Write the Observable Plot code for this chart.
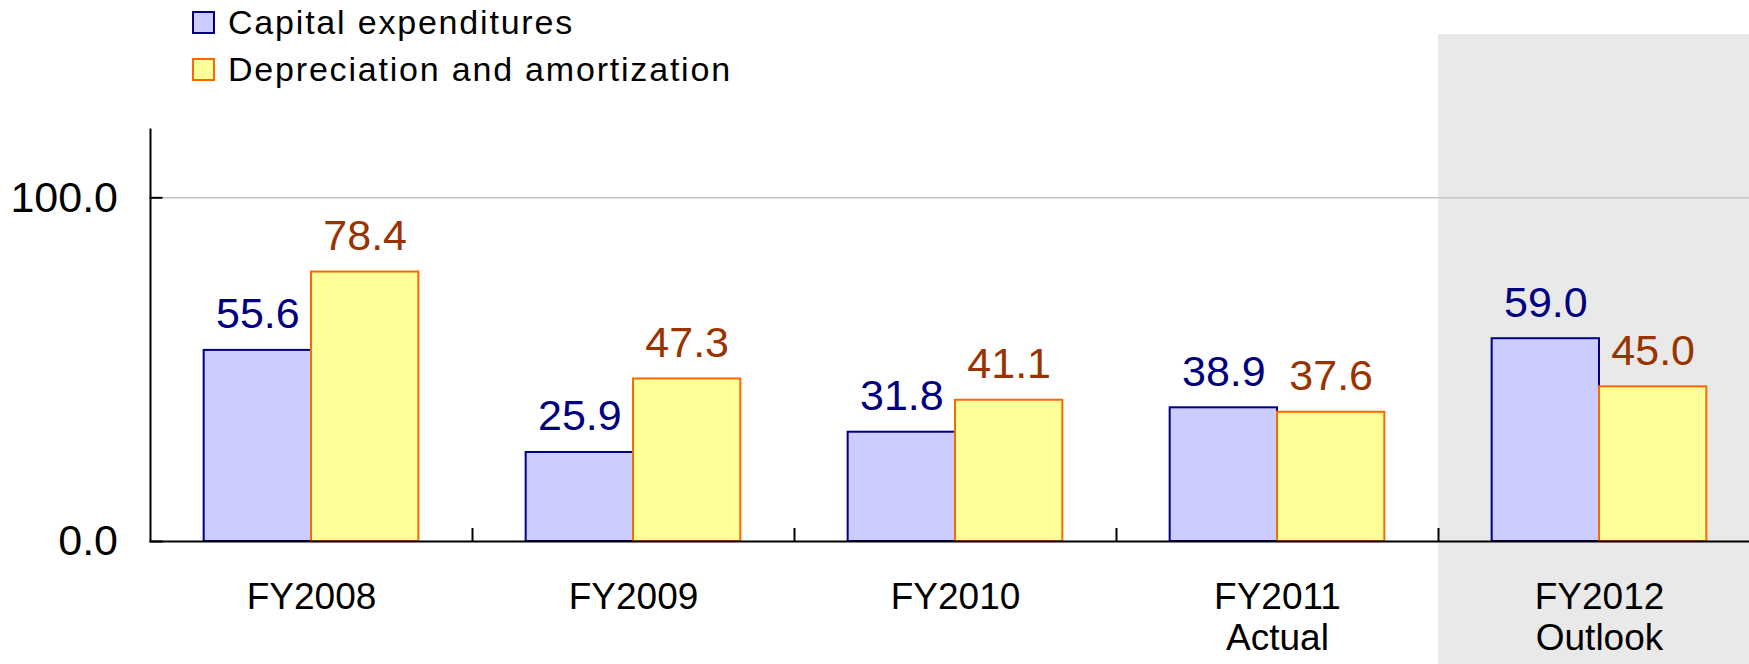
<!DOCTYPE html>
<html><head><meta charset="utf-8">
<script src="https://cdn.jsdelivr.net/npm/d3@7"></script>
<script src="https://cdn.jsdelivr.net/npm/@observablehq/plot@0.6"></script>
<style>
html,body{margin:0;padding:0;background:#fff;overflow:hidden;}
#wrap{position:relative;width:1749px;height:664px;overflow:hidden;font-family:"Liberation Sans",Arial,sans-serif;}
#legend{position:absolute;left:192px;top:11px;z-index:2}
.item{display:flex;align-items:center;height:23px;margin-bottom:23.7px;}
.sw{width:19px;height:19px;border:2px solid;box-sizing:content-box;margin-right:13px;flex:none}
.lab{font-size:34px;letter-spacing:1.8px;color:#000;line-height:23px;white-space:nowrap}
#chart svg{display:block;max-width:none}
g[aria-label="category labels"] text{letter-spacing:2px}
</style></head><body><div id="wrap"><div id="legend"></div><div id="chart"></div></div>
<script>
// ---- data ----
const years = ["FY2008", "FY2009", "FY2010", "FY2011", "FY2012"];
const yearLabels = ["FY2008", "FY2009", "FY2010", "FY2011\nActual", "FY2012\nOutlook"];
const capex = [55.6, 25.9, 31.8, 38.9, 59.0];
const depreciation = [78.4, 47.3, 41.1, 37.6, 45.0];
const seriesNames = ["Capital expenditures", "Depreciation and amortization"];
const yTicks = [0, 100];
const yAxisTop = 120;
const outlookYears = ["FY2012"];

// ---- styles ----
const fills = ["#ccccff", "#ffff99"];
const strokes = ["#000080", "#ff6600"];
const labelColors = ["#000080", "#993300"];

// ---- layout ----
const width = 1760, height = 664;
const marginLeft = 149.5, marginRight = 0.5, marginTop = 34, marginBottom = 0;
const pxPerUnit = 3.437;           // vertical pixels per unit
const zeroPx = 541;                // pixel row of value 0
const yDomain = [-(height - marginBottom - zeroPx) / pxPerUnit, (zeroPx - marginTop) / pxPerUnit];
const step = (width - marginLeft - marginRight) / years.length;
const tickLen = 13 / pxPerUnit;

const capRows = years.map((y, i) => ({year: y, value: capex[i]}));
const depRows = years.map((y, i) => ({year: y, value: depreciation[i]}));
const labelMap = new Map(years.map((y, i) => [y, yearLabels[i]]));

// legend
const legend = document.getElementById("legend");
seriesNames.forEach((name, i) => {
  const item = document.createElement("div");
  item.className = "item";
  const sw = document.createElement("div");
  sw.className = "sw";
  sw.style.background = fills[i];
  sw.style.borderColor = strokes[i];
  const lab = document.createElement("div");
  lab.className = "lab";
  lab.textContent = name;
  item.append(sw, lab);
  legend.append(item);
});

const chart = Plot.plot({
  width, height, marginLeft, marginRight, marginTop, marginBottom,
  style: {fontFamily: '"Liberation Sans", Arial, sans-serif', background: "transparent", overflow: "visible"},
  x: {type: "band", domain: years, padding: 0, axis: null},
  y: {domain: yDomain, axis: null},
  marks: [
    Plot.cell(outlookYears, {x: d => d, fill: "#e9e9e9"}),
    Plot.ruleY([100], {stroke: "#c4c4c4", strokeWidth: 1.5}),
    Plot.barY(capRows, {x: "year", y: "value", fill: fills[0], stroke: strokes[0], strokeWidth: 2,
      insetLeft: step / 6, insetRight: step / 2}),
    Plot.barY(depRows, {x: "year", y: "value", fill: fills[1], stroke: strokes[1], strokeWidth: 2,
      insetLeft: step / 2, insetRight: step / 6}),
    Plot.text(capRows, {x: "year", y: "value", text: d => d.value.toFixed(1), dx: -step / 6, dy: -22,
      lineAnchor: "bottom", fill: labelColors[0], fontSize: 43}),
    Plot.text(depRows, {x: "year", y: "value", text: d => d.value.toFixed(1), dx: step / 6, dy: -22,
      lineAnchor: "bottom", fill: labelColors[1], fontSize: 43}),
    Plot.ruleY([0], {stroke: "#000", strokeWidth: 2}),
    Plot.ruleX([years[0]], {x: d => d, dx: -step / 2, y1: 0, y2: yAxisTop, stroke: "#000", strokeWidth: 2}),
    Plot.ruleX(years.slice(0, -1), {x: d => d, dx: step / 2, y1: 0, y2: tickLen, stroke: "#000", strokeWidth: 2}),
    Plot.axisY({ticks: yTicks, tickSize: -13, tickPadding: 45, tickFormat: d => d.toFixed(1), label: null,
      fontSize: 43, strokeWidth: 2, stroke: "#000", color: "#000"}),
    Plot.text(years, {x: d => d, y: () => 0, text: d => labelMap.get(d), lineAnchor: "top", dy: 38.5,
      lineHeight: 1.1, fontSize: 37, fill: "#000", ariaLabel: "category labels"})
  ]
});
document.getElementById("chart").append(chart);
</script>
</body></html>
